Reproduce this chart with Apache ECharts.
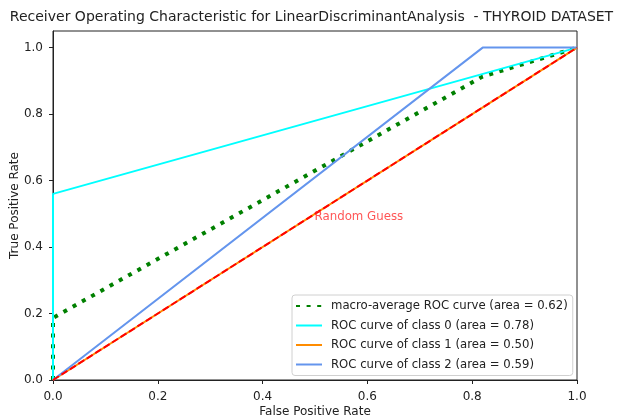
<!DOCTYPE html>
<html>
<head>
<meta charset="utf-8">
<script src="https://cdn.jsdelivr.net/npm/echarts@6/dist/echarts.min.js"></script>
<style>
  html, body { margin: 0; padding: 0; background: #fff; }
  #chart { width: 623px; height: 417px; }
</style>
</head>
<body>
<div id="chart"></div>
<script>
// ROC points (fpr, tpr)
var macroFpr = [0, 0, 0.82, 1];
var macroTpr = [0, 0.187, 0.913, 1];
var class0Fpr = [0, 0, 1];
var class0Tpr = [0, 0.56, 1];
var class1Fpr = [0, 1];
var class1Tpr = [0, 1];
var class2Fpr = [0, 0.82, 1];
var class2Tpr = [0, 1, 1];
var guessFpr = [0, 1];
var guessTpr = [0, 1];
var tickValues = [0, 0.2, 0.4, 0.6, 0.8, 1.0];

var names = [
  "macro-average ROC curve (area = 0.62)",
  "ROC curve of class 0 (area = 0.78)",
  "ROC curve of class 1 (area = 0.50)",
  "ROC curve of class 2 (area = 0.59)"
];

function pairs(xs, ys) {
  return xs.map(function (x, i) {
    return [x, ys[i]];
  });
}

var font = "DejaVu Sans";
var textColor = "#222";

var chart = echarts.init(document.getElementById("chart"));
var option = {
  animation: false,
  textStyle: { fontFamily: font },
  title: {
    text: "Receiver Operating Characteristic for LinearDiscriminantAnalysis  - THYROID DATASET",
    left: "center",
    top: 5,
    textStyle: { fontFamily: font, fontSize: 14, fontWeight: "normal", color: textColor }
  },
  grid: {
    left: 53,
    right: 46,
    top: 31,
    bottom: 37,
    outerBoundsMode: "none",
    containLabel: false,
    show: true,
    borderColor: "#222",
    borderWidth: 1
  },
  xAxis: {
    type: "value",
    min: 0,
    max: 1,
    interval: 0.2,
    name: "False Positive Rate",
    nameLocation: "middle",
    nameGap: 26,
    nameMoveOverlap: false,
    nameTextStyle: { fontFamily: font, fontSize: 12, color: textColor },
    axisLine: { lineStyle: { color: "#222" } },
    axisTick: { inside: false, length: 4, lineStyle: { color: "#222" } },
    axisLabel: {
      fontFamily: font,
      fontSize: 12,
      color: textColor,
      margin: 11,
      formatter: function (v) { return v.toFixed(1); }
    },
    splitLine: { show: false }
  },
  yAxis: {
    type: "value",
    min: 0,
    max: 1.05,
    name: "True Positive Rate",
    nameLocation: "middle",
    nameGap: 32,
    nameMoveOverlap: false,
    nameTextStyle: { fontFamily: font, fontSize: 12, color: textColor },
    axisLine: { show: true, lineStyle: { color: "#222" } },
    axisTick: { show: true, length: 4, customValues: tickValues, lineStyle: { color: "#222" } },
    axisLabel: {
      fontFamily: font,
      fontSize: 12,
      color: textColor,
      margin: 10,
      customValues: tickValues,
      formatter: function (v) { return v.toFixed(1); }
    },
    splitLine: { show: false }
  },
  legend: {
    orient: "vertical",
    left: 292,
    top: 295,
    data: names,
    itemWidth: 26,
    itemHeight: 10,
    itemGap: 7.5,
    padding: [5, 5, 5, 3],
    backgroundColor: "rgba(255,255,255,0.8)",
    borderColor: "#d0d0d0",
    borderWidth: 1,
    borderRadius: 3,
    itemStyle: { opacity: 0 },
    textStyle: { fontFamily: font, fontSize: 11.7, color: textColor, padding: [0, 0, 0, 4] }
  },
  series: [
    {
      name: names[0],
      type: "line",
      data: pairs(macroFpr, macroTpr),
      symbol: "none",
      color: "#008000",
      lineStyle: { width: 4, type: [4, 6.6], cap: "butt", color: "#008000" },
      z: 2
    },
    {
      name: names[1],
      type: "line",
      data: pairs(class0Fpr, class0Tpr),
      symbol: "none",
      color: "#00ffff",
      lineStyle: { width: 2, color: "#00ffff" },
      z: 3
    },
    {
      name: names[2],
      type: "line",
      data: pairs(class1Fpr, class1Tpr),
      symbol: "none",
      color: "#ff8c00",
      lineStyle: { width: 2, color: "#ff8c00" },
      z: 4
    },
    {
      name: names[3],
      type: "line",
      data: pairs(class2Fpr, class2Tpr),
      symbol: "none",
      color: "#6495ed",
      lineStyle: { width: 2, color: "#6495ed" },
      z: 5
    },
    {
      name: "guess",
      type: "line",
      data: pairs(guessFpr, guessTpr),
      symbol: "none",
      color: "#ff0000",
      lineStyle: { width: 2, type: [7, 3], color: "#ff0000" },
      z: 6
    },
    {
      name: "guessLabel",
      type: "scatter",
      data: [[0.5, 0.5]],
      symbolSize: 1,
      itemStyle: { color: "rgba(0,0,0,0)" },
      label: {
        show: true,
        formatter: "Random Guess",
        position: [0, 0],
        align: "left",
        verticalAlign: "middle",
        offset: [0, 4],
        fontFamily: font,
        fontSize: 11.8,
        color: "#ff2a2a"
      },
      z: 7
    }
  ]
};
chart.setOption(option);
</script>
</body>
</html>
